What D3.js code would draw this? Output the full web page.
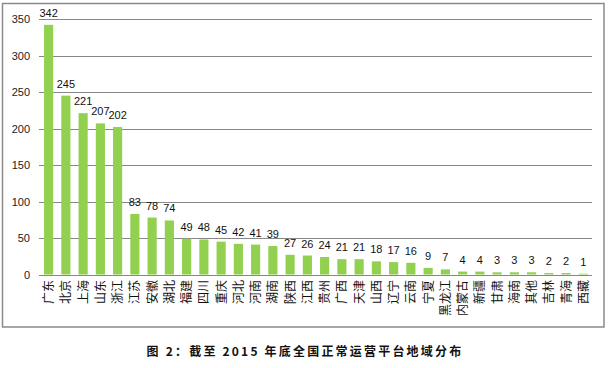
<!DOCTYPE html>
<html><head><meta charset="utf-8">
<script src="https://cdn.jsdelivr.net/npm/d3@7"></script>
<style>body{margin:0;background:#fff}svg{display:block}</style>
</head><body><svg id="c" width="608" height="368"></svg>
<script>
const categories = ["广东","北京","上海","山东","浙江","江苏","安徽","湖北","福建","四川","重庆","河北","河南","湖南","陕西","江西","贵州","广西","天津","山西","辽宁","云南","宁夏","黑龙江","内蒙古","新疆","甘肃","海南","其他","吉林","青海","西藏"];
const values = [342,245,221,207,202,83,78,74,49,48,45,42,41,39,27,26,24,21,21,18,17,16,9,7,4,4,3,3,3,2,2,1];
const yTicks = [0,50,100,150,200,250,300,350];
const title = "图 2：截至 2015 年底全国正常运营平台地域分布";

const svg = d3.select("#c");
const font = "'Noto Sans CJK SC','DejaVu Sans',sans-serif";
svg.append("rect").attr("x",2.5).attr("y",3.5).attr("width",601.5).attr("height",323.5)
  .attr("fill","#fff").attr("stroke","#8a8a8a").attr("stroke-width",1.5);

const x = d3.scaleBand().domain(categories).range([40,592]).paddingInner(0.47).paddingOuter(0.235);
const y = d3.scaleLinear().domain([0,350]).range([274.5,19]);

const g = svg.append("g");
g.selectAll("line.grid").data(yTicks).join("line")
  .attr("x1",39).attr("x2",592)
  .attr("y1",d=>Math.round(y(d))+0.5).attr("y2",d=>Math.round(y(d))+0.5)
  .attr("stroke","#878787").attr("stroke-width",1);

g.selectAll("text.yt").data(yTicks).join("text")
  .attr("x",30).attr("y",d=>y(d)+4).attr("text-anchor","end")
  .attr("font-family","'Liberation Sans',Arial,sans-serif").attr("font-size",11).attr("fill","#222")
  .text(d=>d);

g.selectAll("rect.bar").data(values).join("rect")
  .attr("x",(d,i)=>x(categories[i])).attr("width",x.bandwidth())
  .attr("y",d=>y(d)).attr("height",d=>y(0)-y(d)).attr("fill","#92d050");

g.selectAll("text.v").data(values).join("text")
  .attr("x",(d,i)=>x(categories[i])+x.bandwidth()/2).attr("y",d=>y(d)-8)
  .attr("text-anchor","middle").attr("font-family","'Liberation Sans',Arial,sans-serif")
  .attr("font-size",11).attr("fill","#111").text(d=>d);

g.selectAll("text.xl").data(categories).join("text")
  .attr("transform",d=>`translate(${x(d)+x.bandwidth()/2+4.5},280) rotate(-90)`)
  .attr("text-anchor","end").attr("font-family",font).attr("font-size",12).attr("fill","#111")
  .text(d=>d);

svg.append("text").attr("x",305).attr("y",356).attr("text-anchor","middle")
  .attr("font-family",font).attr("font-weight","bold").attr("font-size",12)
  .attr("letter-spacing","2.2px").attr("fill","#111").text(title);
</script></body></html>
